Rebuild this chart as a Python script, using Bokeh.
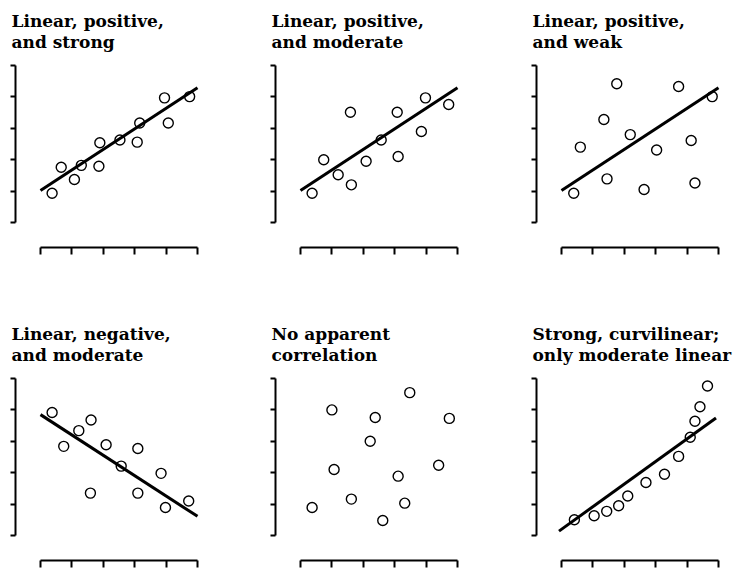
from bokeh.plotting import figure
from bokeh.layouts import gridplot
from bokeh.models import Range1d, FixedTicker, Title
from bokeh.embed import file_html
from bokeh.resources import INLINE

# ---------------- data ----------------
title_line1 = ["Linear, positive,", "Linear, positive,", "Linear, positive,",
               "Linear, negative,", "No apparent", "Strong, curvilinear;"]
title_line2 = ["and strong", "and moderate", "and weak",
               "and moderate", "correlation", "only moderate linear"]

tick_values = [0, 1, 2, 3, 4, 5]

strong_x = [0.37, 0.66, 1.08, 1.30, 1.86, 1.89, 2.53, 3.08, 3.16, 3.95, 4.07, 4.75]
strong_y = [0.93, 1.76, 1.37, 1.82, 1.79, 2.54, 2.63, 2.56, 3.17, 3.97, 3.17, 4.01]

moderate_x = [0.37, 0.74, 1.20, 1.59, 1.62, 2.09, 2.57, 3.08, 3.11, 3.85, 3.98, 4.72]
moderate_y = [0.93, 2.00, 1.52, 3.51, 1.20, 1.95, 2.63, 3.51, 2.10, 2.90, 3.97, 3.76]

weak_x = [0.39, 0.60, 1.35, 1.45, 1.76, 2.19, 2.63, 3.03, 3.73, 4.13, 4.25, 4.80]
weak_y = [0.93, 2.40, 3.28, 1.39, 4.42, 2.80, 1.05, 2.31, 4.33, 2.61, 1.26, 4.01]

negative_x = [0.37, 0.74, 1.22, 1.61, 1.59, 2.09, 2.57, 3.10, 3.10, 3.84, 3.98, 4.72]
negative_y = [3.92, 2.84, 3.34, 3.68, 1.35, 2.89, 2.21, 2.77, 1.35, 1.98, 0.89, 1.10]

none_x = [0.37, 1.00, 1.07, 1.62, 2.22, 2.38, 2.62, 3.11, 3.32, 3.48, 4.40, 4.74]
none_y = [0.89, 4.00, 2.10, 1.16, 3.00, 3.76, 0.48, 1.89, 1.03, 4.55, 2.24, 3.73]

curve_x = [0.41, 1.04, 1.44, 1.82, 2.11, 2.69, 3.28, 3.73, 4.10, 4.25, 4.41, 4.65]
curve_y = [0.50, 0.63, 0.77, 0.95, 1.26, 1.69, 1.95, 2.52, 3.13, 3.64, 4.10, 4.76]

# straight lines drawn in each panel (end points), None = no line
fit_x = [[0, 5], [0, 5], [0, 5], [0, 5], None, [-0.08, 4.92]]
fit_y = [[1.02, 4.29], [1.02, 4.29], [1.02, 4.29], [3.85, 0.61], None, [0.14, 3.74]]

points_x = [strong_x, moderate_x, weak_x, negative_x, none_x, curve_x]
points_y = [strong_y, moderate_y, weak_y, negative_y, none_y, curve_y]

# ---------------- layout ----------------
FONT = "DejaVu Serif"
col_widths = [260, 261, 217]
row_heights = [313, 255]
FRAME_W = 190
FRAME_H = 187
BORDER_L = 15
BORDER_T = 60
X_START, X_END = -0.796, 5.255
Y_START, Y_END = -0.796, 5.16

figs = []
for i in range(6):
    r, c = divmod(i, 3)
    w = col_widths[c]
    h = row_heights[r]
    p = figure(width=w, height=h, output_backend="svg", toolbar_location=None,
               x_range=Range1d(X_START, X_END), y_range=Range1d(Y_START, Y_END),
               min_border_left=BORDER_L, min_border_right=w - BORDER_L - FRAME_W,
               min_border_top=BORDER_T, min_border_bottom=h - BORDER_T - FRAME_H,
               x_axis_location="below", y_axis_location="left")
    p.outline_line_color = None
    p.grid.visible = False
    p.background_fill_color = "white"
    p.border_fill_color = "white"

    for ax in (p.xaxis[0], p.yaxis[0]):
        ax.ticker = FixedTicker(ticks=tick_values)
        ax.bounds = (0, 5)
        ax.axis_line_width = 2
        ax.axis_line_color = "black"
        ax.major_tick_line_width = 2
        ax.major_tick_line_color = "black"
        ax.major_tick_in = 0
        ax.minor_tick_line_color = None
        ax.major_label_overrides = {v: "" for v in tick_values}
        ax.major_label_standoff = 0
        ax.axis_label = None
    p.xaxis[0].major_tick_out = 7
    p.yaxis[0].major_tick_out = 5

    if fit_x[i] is not None:
        p.line(fit_x[i], fit_y[i], line_color="black", line_width=3)
    p.scatter(points_x[i], points_y[i], marker="circle", size=10,
              fill_color=None, line_color="black", line_width=1.4)

    p.add_layout(Title(text=title_line1[i] + "\n" + title_line2[i], text_font=FONT,
                       text_font_style="bold", text_font_size="17px",
                       text_line_height=1.06, align="left", offset=-4, standoff=16,
                       text_color="black"), "above")
    figs.append(p)

grid = gridplot([figs[0:3], figs[3:6]], toolbar_location=None)

open("out.html", "w").write(file_html(grid, INLINE))
